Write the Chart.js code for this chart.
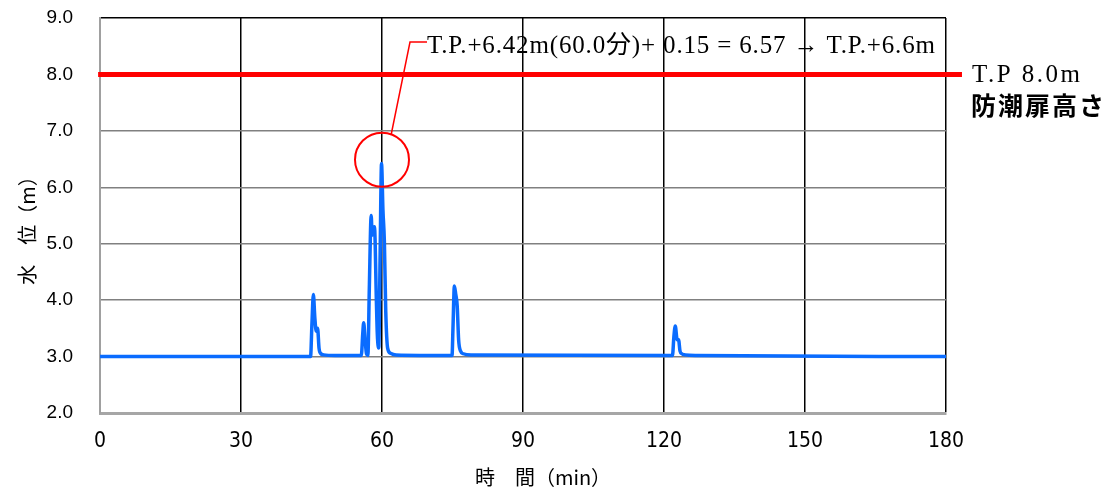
<!DOCTYPE html>
<html>
<head>
<meta charset="utf-8">
<script src="https://cdn.jsdelivr.net/npm/chart.js@4.4.1/dist/chart.umd.min.js"></script>
<style>
  html, body { margin: 0; padding: 0; background: #fff; }
  #wrap { width: 1113px; height: 494px; position: relative; }
</style>
</head>
<body>
<div id="wrap"><canvas id="chart"></canvas></div>
<script>
// time (min) and water level (m)
const times = [0, 44.8, 45.1, 45.4, 45.7, 46.0, 46.3, 46.6, 47.0, 47.6, 50,
  55.6, 55.9, 56.1, 56.4, 56.7, 57.0, 57.3, 57.7, 57.9, 58.4, 58.8, 59.0, 59.3,
  59.6, 59.9, 60.2, 60.5, 60.8, 61.2, 61.8, 63,
  74.9, 75.1, 75.4, 75.7, 76.0, 76.3, 76.7, 77.3, 79,
  121.8, 122.1, 122.4, 122.8, 123.1, 123.4, 123.8, 124.5, 127, 180];
const levels = [3.0, 3.0, 3.6, 4.1, 3.7, 3.45, 3.5, 3.15, 3.05, 3.03, 3.02,
  3.02, 3.4, 3.6, 3.3, 3.05, 3.02, 4.2, 5.5, 5.15, 5.3, 4.0, 3.4, 3.15,
  4.8, 6.42, 5.6, 5.05, 3.8, 3.15, 3.06, 3.03,
  3.02, 3.5, 4.25, 4.1, 3.9, 3.3, 3.1, 3.05, 3.03,
  3.02, 3.35, 3.54, 3.3, 3.3, 3.1, 3.05, 3.03, 3.02, 3.0];

// gate height line (runs a little past the plot on both ends)
const gateTimes = [-0.4, 183.4];
const gateLevels = [8.0, 8.0];

const xTicks = [0, 30, 60, 90, 120, 150, 180];
const yMin = 2.0, yMax = 9.0;

const peakTime = 60.0, peakLevel = 6.49;
const noteText = 'T.P.+6.42m(60.0分)+ 0.15 = 6.57 → T.P.+6.6m';
const gateLabel1 = 'T.P 8.0m';
const gateLabel2 = '防潮扉高さ';

const SERIF = '"Liberation Serif", "Noto Sans CJK JP", serif';
const NARROW = '"Liberation Sans Narrow", "DejaVu Sans Condensed", "Roboto Condensed", "Noto Sans CJK JP", sans-serif';
const CJK = '"Noto Sans CJK JP", sans-serif';

// circle + callout + right-hand labels
const notePlugin = {
  id: 'note',
  afterDatasetsDraw(chart) {
    const { ctx, scales: { x, y } } = chart;
    const cx = x.getPixelForValue(peakTime);
    const cy = y.getPixelForValue(peakLevel);
    const r = 27;
    ctx.save();
    ctx.strokeStyle = '#ff0000';
    ctx.lineWidth = 2;
    ctx.beginPath();
    ctx.arc(cx, cy, r, 0, Math.PI * 2);
    ctx.stroke();

    const ang = -70 * Math.PI / 180;
    ctx.lineWidth = 1.5;
    ctx.beginPath();
    ctx.moveTo(cx + r * Math.cos(ang), cy + r * Math.sin(ang));
    ctx.lineTo(cx + 28, 42);
    ctx.lineTo(cx + 45, 42);
    ctx.stroke();

    ctx.fillStyle = '#000';
    ctx.textBaseline = 'middle';
    ctx.textAlign = 'left';
    ctx.font = '25px ' + SERIF;
    // stretch the note so it ends near the right edge like the original
    const w = ctx.measureText(noteText).width;
    ctx.letterSpacing = Math.max(0, (509 - w) / noteText.length).toFixed(2) + 'px';
    ctx.fillText(noteText, cx + 45, 46);

    const gy = y.getPixelForValue(8.0);
    ctx.font = '25px ' + SERIF;
    ctx.letterSpacing = '2.5px';
    ctx.fillText(gateLabel1, x.right + 26, gy + 1);
    ctx.font = 'bold 25px ' + CJK;
    ctx.letterSpacing = '2px';
    ctx.fillText(gateLabel2, x.right + 25, gy + 31);
    ctx.restore();
  }
};

const ctx = document.getElementById('chart').getContext('2d');
new Chart(ctx, {
  type: 'line',
  data: {
    datasets: [
      {
        label: 'gate',
        data: gateTimes.map((t, i) => ({ x: t, y: gateLevels[i] })),
        borderColor: '#ff0000',
        borderWidth: 5,
        pointRadius: 0,
        clip: false
      },
      {
        label: 'level',
        data: times.map((t, i) => ({ x: t, y: levels[i] })),
        borderColor: '#0a6cff',
        borderWidth: 3.5,
        pointRadius: 0,
        cubicInterpolationMode: 'monotone'
      }
    ]
  },
  options: {
    responsive: true,
    maintainAspectRatio: false,
    animation: false,
    layout: { padding: { top: 18, right: 167, left: 0, bottom: 0 } },
    plugins: {
      legend: { display: false },
      tooltip: { enabled: false }
    },
    scales: {
      x: {
        type: 'linear',
        min: 0,
        max: 180,
        afterBuildTicks: s => { s.ticks = xTicks.map(v => ({ value: v })); },
        afterFit: s => { s.height = 81; s.paddingLeft = 0; s.paddingRight = 0; },
        grid: {
          drawTicks: false,
          lineWidth: 1.5,
          color: c => (c.tick && c.tick.value === 0) ? '#a0a0a0' : '#000'
        },
        border: { color: '#a6a6a6', width: 3 },
        ticks: {
          color: '#000',
          padding: 16,
          maxRotation: 0,
          font: { family: NARROW, size: 21 }
        },
        title: {
          display: true,
          text: '\u3000\u3000時\u3000間（min）',
          color: '#000',
          padding: { top: 0, bottom: 5 },
          font: { family: CJK, size: 20 }
        }
      },
      y: {
        min: yMin,
        max: yMax,
        afterFit: s => { s.width = 100; s.paddingTop = 0; s.paddingBottom = 0; },
        grid: {
          drawTicks: false,
          lineWidth: 1.5,
          color: c => (c.tick && c.tick.value === yMax) ? '#000' : '#808080'
        },
        border: { color: '#a0a0a0', width: 2 },
        ticks: {
          stepSize: 1,
          color: '#000',
          padding: 27,
          font: { family: '"Liberation Sans", Arial, sans-serif', size: 19 },
          callback: v => v.toFixed(1)
        },
        title: {
          display: true,
          text: '水\u3000位（m）\u3000\u2002',
          color: '#000',
          padding: { top: 15, bottom: 0 },
          font: { family: CJK, size: 20 }
        }
      }
    }
  },
  plugins: [notePlugin]
});
</script>
</body>
</html>
